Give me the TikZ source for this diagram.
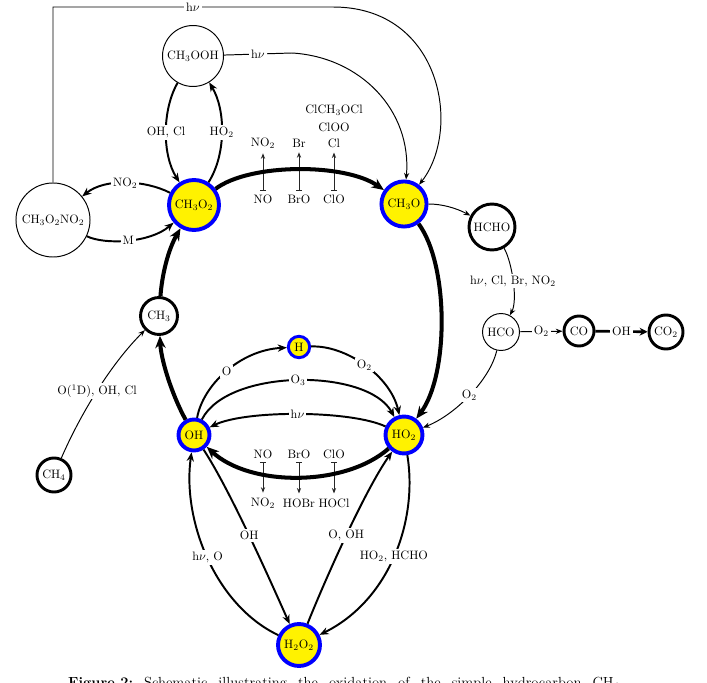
\documentclass[tikz,border=0pt]{standalone}
\usetikzlibrary{arrows.meta}
\begin{document}
\begin{tikzpicture}[x=0.82pt,y=-0.82pt,
  sp/.style={circle,draw,inner sep=0pt,line width=0.8pt},
  spbold/.style={circle,draw,inner sep=0pt,line width=2.4pt},
  radical/.style={circle,draw=blue,fill=yellow,inner sep=0pt,line width=3.2pt},
  lab/.style={fill=white,inner sep=1.5pt},
  chem/.style={inner sep=3pt},
  thinarr/.style={line width=0.8pt,-{Stealth[length=5.5pt,width=4.2pt]}},
  midarr/.style={line width=1.6pt,-{Stealth[length=7.5pt,width=6pt]}},
  mainarr/.style={line width=3.3pt,-{Stealth[length=10pt,width=8.5pt]}},
  bararr/.style={line width=0.7pt,black!85,shorten >=1pt,{Bar[width=5pt]}-{Stealth[length=4.5pt,width=3.5pt]}}
]
\useasboundingbox (0,0) rectangle (707,683);
\clip (0,0) rectangle (707,683);

% species
\node[sp,minimum size=50pt] (ch3ooh) at (193,56) {CH$_3$OOH};
\node[sp,minimum size=60.7pt] (pan) at (53,220) {CH$_3$O$_2$NO$_2$};
\node[radical,minimum size=41pt] (ch3o2) at (194,205) {CH$_3$O$_2$};
\node[radical,minimum size=37pt] (ch3o) at (404,204) {CH$_3$O};
\node[spbold,minimum size=37.7pt] (hcho) at (492,227) {HCHO};
\node[sp,minimum size=30.3pt] (hco) at (501,332) {HCO};
\node[spbold,minimum size=24.6pt] (co) at (579,331) {CO};
\node[spbold,minimum size=27.9pt] (co2) at (666,332) {CO$_2$};
\node[spbold,minimum size=30.3pt] (ch3) at (159,316) {CH$_3$};
\node[spbold,minimum size=27.9pt] (ch4) at (54,475) {CH$_4$};
\node[radical,line width=2.4pt,minimum size=17.5pt] (h) at (299,347) {H};
\node[radical,minimum size=25.4pt] (oh) at (194,435) {OH};
\node[radical,minimum size=30.3pt] (ho2) at (404,435) {HO$_2$};
\node[radical,minimum size=34.4pt] (h2o2) at (299,645) {H$_2$O$_2$};

% halogen / NOx side reactions on the CH3O2 -> CH3O step
\node[chem] (noa) at (263,199) {NO};
\node[chem] (broa) at (299,199) {BrO};
\node[chem] (cloa) at (334,199) {ClO};
\node[chem] (no2a) at (263,143) {NO$_2$};
\node[chem] (bra) at (299,143) {Br};
\node[chem] (cla) at (334,143) {Cl};
\node (cloo) at (334,127) {ClOO};
\node (clmeocl) at (334,110) {ClCH$_3$OCl};
\draw[bararr] (noa) -- (no2a);
\draw[bararr] (broa) -- (bra);
\draw[bararr] (cloa) -- (cla);

% side reactions on the HO2 -> OH step
\node[chem] (nob) at (263,454) {NO};
\node[chem] (brob) at (299,454) {BrO};
\node[chem] (clob) at (334,454) {ClO};
\node[chem] (no2b) at (263,503) {NO$_2$};
\node[chem] (hobr) at (299,503) {HOBr};
\node[chem] (hocl) at (334,503) {HOCl};
\draw[bararr] (nob) -- (no2b);
\draw[bararr] (brob) -- (hobr);
\draw[bararr] (clob) -- (hocl);

% photolysis routes into CH3O
\draw[thinarr] (pan) -- (53,7) -- node[lab]{h$\nu$} (333,7)
  .. controls (442,7) and (462,130) .. (ch3o);
\draw[thinarr] (ch3ooh) -- node[lab]{h$\nu$} (292,53)
  .. controls (360,57) and (412,110) .. (ch3o);

% CH3O2 reservoirs
\draw[midarr] (ch3ooh) .. controls (162,110) and (162,155) .. node[lab]{OH, Cl} (ch3o2);
\draw[midarr] (ch3o2) .. controls (226,155) and (226,110) .. node[lab]{HO$_2$} (ch3ooh);
\draw[midarr] (ch3o2) .. controls (145,180) and (105,178) .. node[lab]{NO$_2$} (pan);
\draw[midarr] (pan) .. controls (105,245) and (150,243) .. node[lab]{M} (ch3o2);

% methane oxidation chain
\draw[thinarr] (ch4) .. controls (80,415) and (110,365) .. node[lab]{O($^1$D), OH, Cl} (ch3);
\draw[mainarr] (ch3) .. controls (162,275) and (168,250) .. (ch3o2);
\draw[mainarr] (ch3o2) .. controls (250,163) and (345,163) .. (ch3o);
\draw[mainarr] (ch3o) .. controls (449,265) and (449,375) .. (ho2);
\draw[thinarr] (ch3o) .. controls (442,204) and (456,208) .. (hcho);
\draw[thinarr] (hcho) .. controls (512,262) and (518,300) .. node[lab]{h$\nu$, Cl, Br, NO$_2$} (hco);
\draw[thinarr] (hco) -- node[lab]{O$_2$} (co);
\draw[line width=2.2pt,-{Stealth[length=6.5pt,width=6.5pt]}] (co) -- node[lab]{OH} (co2);
\draw[thinarr] (hco) .. controls (490,380) and (455,415) .. node[lab]{O$_2$} (ho2);

% HOx cycling
\draw[mainarr] (oh) .. controls (172,395) and (161,360) .. (ch3);
\draw[midarr] (oh) .. controls (203,385) and (240,350) .. node[lab]{O} (h);
\draw[midarr] (h) .. controls (345,345) and (390,375) .. node[lab]{O$_2$} (ho2);
\draw[midarr] (oh) .. controls (228,368) and (368,368) .. node[lab]{O$_3$} (ho2);
\draw[midarr] (ho2) .. controls (350,410) and (245,410) .. node[lab]{h$\nu$} (oh);
\draw[mainarr] (ho2) .. controls (345,487) and (250,487) .. (oh);

% H2O2 formation and loss
\draw[midarr] (oh) .. controls (230,490) and (270,580) .. node[lab]{OH} (h2o2);
\draw[midarr] (h2o2) .. controls (325,580) and (365,490) .. node[lab]{O, OH} (ho2);
\draw[midarr] (h2o2) .. controls (215,605) and (182,520) .. node[lab]{h$\nu$, O} (oh);
\draw[midarr] (ho2) .. controls (418,520) and (390,600) .. node[lab]{HO$_2$, HCHO} (h2o2);

% caption line
\node[anchor=base west,inner sep=0pt] (cap) at (68,687)
  {\fontsize{12}{14}\selectfont\makebox[452pt][s]{\textbf{\mbox{Figure 2:}} Schematic illustrating the oxidation of the simple hydrocarbon CH$_4$}};
\end{tikzpicture}
\end{document}
